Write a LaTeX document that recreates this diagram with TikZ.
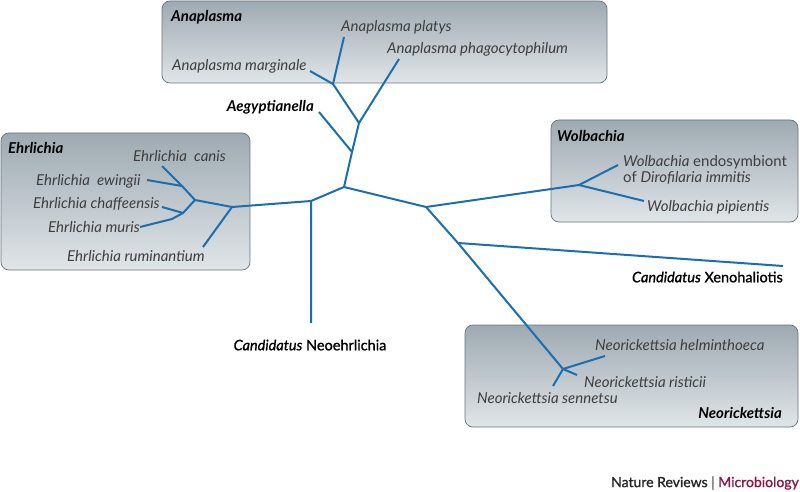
\documentclass[tikz,border=0pt]{standalone}
\usepackage{fontspec}
\setmainfont{Lato}
\newfontfamily\candfont{Lato}[FakeBold=1.2]
\definecolor{treeblue}{RGB}{28,110,172}
\definecolor{boxtop}{RGB}{158,170,178}
\definecolor{boxbottom}{RGB}{224,229,232}
\definecolor{boxedge}{RGB}{105,115,122}
\definecolor{spgray}{RGB}{62,62,62}
\definecolor{micro}{RGB}{140,22,78}
\tikzset{
  branch/.style={treeblue, line width=2pt, line join=round},
  genusbox/.style={rounded corners=8pt, draw=boxedge, line width=0.7pt,
    top color=boxtop, bottom color=boxbottom},
  sp/.style={inner sep=0pt, text=spgray, font=\itshape\fontsize{15}{16}\selectfont},
  genus/.style={inner sep=0pt, font=\bfseries\itshape\fontsize{15}{16}\selectfont},
  cand/.style={inner sep=0pt, font=\candfont\fontsize{14.5}{16}\selectfont}
}
\begin{document}
\begin{tikzpicture}[x=1pt,y=-1pt]
    \useasboundingbox (0,0) rectangle (800,492);
    % genus boxes
    \path[genusbox] (162,1) rectangle (607,83);
    \path[genusbox] (1,133) rectangle (250,270);
    \path[genusbox] (551,120) rectangle (798,222);
    \path[genusbox] (465,325) rectangle (798,427);
    % branch points and tips
    \coordinate (root) at (344,187);
    \coordinate (a3) at (352,152);
    \coordinate (a2) at (359,123);
    \coordinate (a1) at (333,84);
    \coordinate (amarg) at (310,71);
    \coordinate (aplat) at (344,37);
    \coordinate (aphag) at (399,59);
    \coordinate (aegy) at (319,112);
    \coordinate (n1) at (311,201);
    \coordinate (neoe) at (311,323);
    \coordinate (e4) at (232,207);
    \coordinate (erum) at (203,247);
    \coordinate (e2) at (195,200);
    \coordinate (e1) at (182,186);
    \coordinate (ecan) at (162,166);
    \coordinate (eewi) at (147,180);
    \coordinate (e3) at (183,213);
    \coordinate (echa) at (162,207);
    \coordinate (emurb) at (172,219);
    \coordinate (emur) at (140,227);
    \coordinate (w0) at (426,207);
    \coordinate (w1) at (579,185);
    \coordinate (wdir) at (618,165);
    \coordinate (wpip) at (644,201);
    \coordinate (x0) at (458,243);
    \coordinate (xeno) at (783,266);
    \coordinate (nr) at (563,369);
    \coordinate (nhel) at (605,356);
    \coordinate (nris) at (577,375);
    \coordinate (nsen) at (553,386);
    % tree
    \draw[branch] (amarg) -- (a1) -- (aplat);
    \draw[branch] (a1) -- (a2) -- (aphag);
    \draw[branch] (a2) -- (a3) -- (aegy);
    \draw[branch] (a3) -- (root) -- (n1) -- (neoe);
    \draw[branch] (n1) -- (e4) -- (erum);
    \draw[branch] (e4) -- (e2) -- (e1) -- (ecan);
    \draw[branch] (e1) -- (eewi);
    \draw[branch] (e2) -- (e3) -- (echa);
    \draw[branch] (e3) -- (emurb) -- (emur);
    \draw[branch] (root) -- (w0) -- (w1) -- (wdir);
    \draw[branch] (w1) -- (wpip);
    \draw[branch] (w0) -- (x0) -- (xeno);
    \draw[branch] (x0) -- (nr) -- (nhel);
    \draw[branch] (nr) -- (nris);
    \draw[branch] (nr) -- (nsen);
    % Anaplasma
    \node[genus, anchor=west] (anap) at (171,17) {Anaplasma};
    \node[sp, anchor=west] (lplat) at (341,27) {Anaplasma platys};
    \node[sp, anchor=west] (lphag) at (387,49) {Anaplasma phagocytophilum};
    \node[sp, anchor=west] (lmarg) at (172,66) {Anaplasma marginale};
    \node[genus, anchor=east] (laegy) at (314,107) {Aegyptianella};
    % Ehrlichia
    \node[genus, anchor=west] (ehrl) at (8,148) {Ehrlichia};
    \node[sp, anchor=west] (lcan) at (133,156) {Ehrlichia\ \ canis};
    \node[sp, anchor=west] (lewi) at (36,181) {Ehrlichia\ \ ewingii};
    \node[sp, anchor=west] (lcha) at (33,204) {Ehrlichia chaffeensis};
    \node[sp, anchor=west] (lmur) at (48,227) {Ehrlichia muris};
    \node[sp, anchor=west] (lrum) at (67,256) {Ehrlichia ruminantium};
    \node[cand, anchor=center] (lneoe) at (310,345) {\textit{Candidatus} Neoehrlichia};
    % Wolbachia
    \node[genus, anchor=west] (wolb) at (557,136) {Wolbachia};
    \node[sp, anchor=west, align=left, font=\fontsize{15}{16}\selectfont] (ldir) at (623,170)
      {\textit{Wolbachia} endosymbiont\\of \textit{Dirofilaria immitis}};
    \node[sp, anchor=west] (lpip) at (647,207) {Wolbachia pipientis};
    \node[cand, anchor=east] (lxeno) at (783,277) {\textit{Candidatus} Xenohaliotis};
    % Neorickettsia
    \node[sp, anchor=west] (lhel) at (595,345) {Neorickettsia helminthoeca};
    \node[sp, anchor=west] (lris) at (584,382) {Neorickettsia risticii};
    \node[sp, anchor=west] (lsen) at (477,398) {Neorickettsia sennetsu};
    \node[genus, anchor=east] (neor) at (782,413) {Neorickettsia};
    % credit
    \node[cand, anchor=east, text=black!85, font=\candfont\fontsize{14}{16}\selectfont] (credit) at (799,483)
      {Nature Reviews \textcolor{black!60}{|} \textcolor{micro}{Microbiology}};
\end{tikzpicture}
\end{document}
